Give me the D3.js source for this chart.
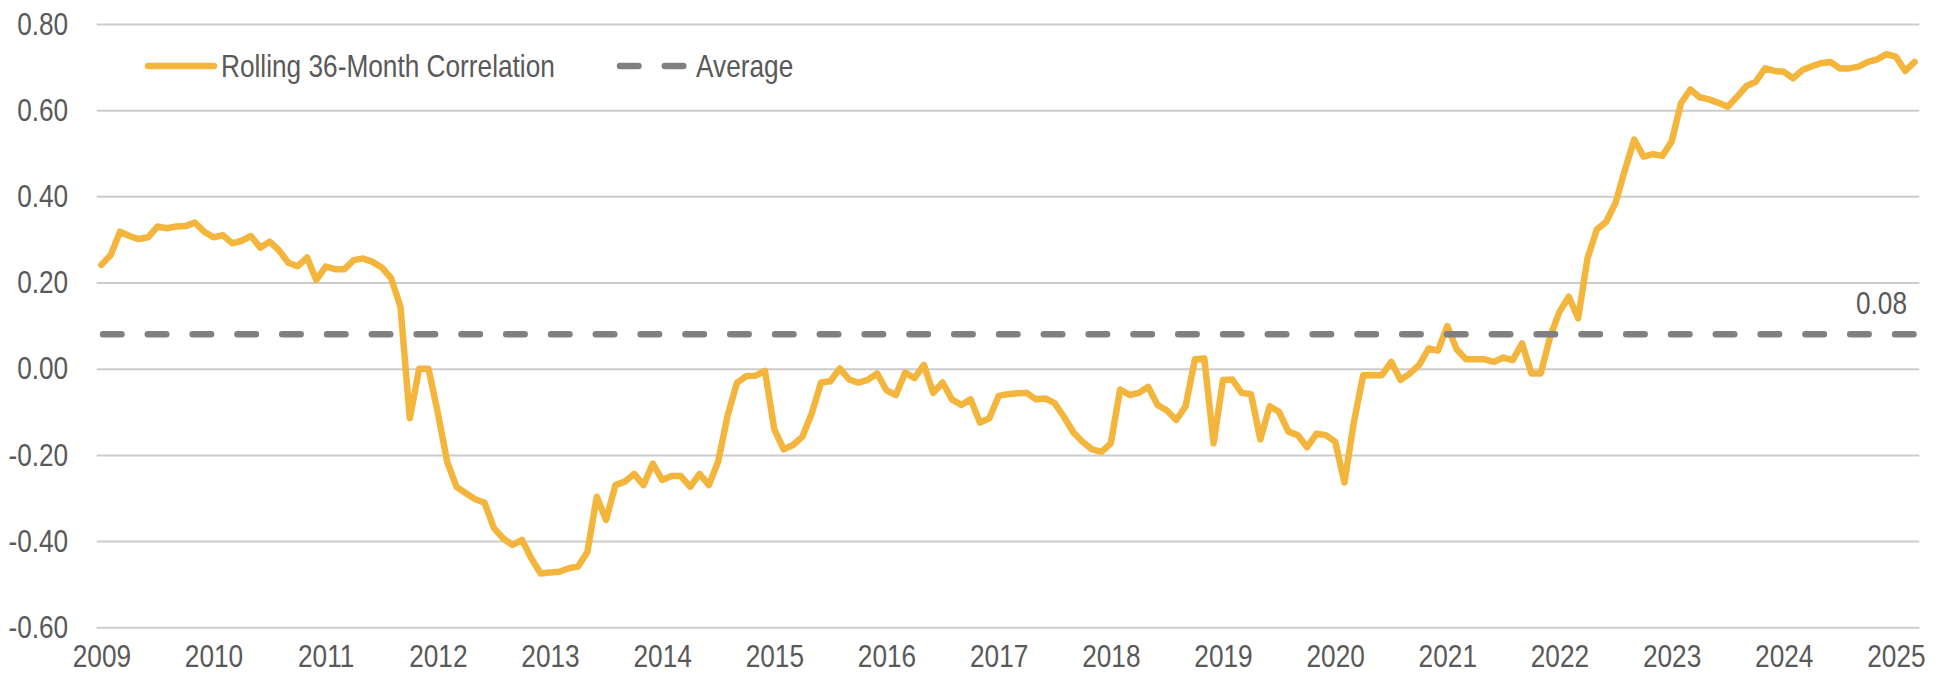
<!DOCTYPE html>
<html>
<head>
<meta charset="utf-8">
<script src="https://cdn.jsdelivr.net/npm/d3@7/dist/d3.min.js"></script>
<style>
  body { margin: 0; background: #fff; }
  .txt { font-family: 'Liberation Sans', Arial, sans-serif; font-size: 32px; fill: #595959; }
</style>
</head>
<body>
<div id="chart"></div>
<script>
// ---- data ----
const firstMonth = new Date(2009, 0, 1);   // Jan 2009
const lastMonth = new Date(2025, 2, 1);    // Mar 2025

// rolling 36-month correlation, one value per month
const correlation = [
  // 2009
  0.241, 0.264, 0.318, 0.308, 0.301, 0.305, 0.330, 0.326, 0.330, 0.331, 0.339, 0.318,
  // 2010
  0.305, 0.310, 0.291, 0.297, 0.308, 0.281, 0.295, 0.275, 0.246, 0.238, 0.258, 0.206,
  // 2011
  0.237, 0.231, 0.231, 0.252, 0.256, 0.248, 0.235, 0.210, 0.144, -0.115, 0.000, 0.000,
  // 2012
  -0.103, -0.216, -0.274, -0.289, -0.303, -0.311, -0.370, -0.394, -0.409, -0.397, -0.440, -0.475,
  // 2013
  -0.473, -0.471, -0.463, -0.459, -0.425, -0.297, -0.351, -0.270, -0.262, -0.244, -0.270, -0.220,
  // 2014
  -0.258, -0.249, -0.249, -0.274, -0.244, -0.270, -0.215, -0.109, -0.033, -0.017, -0.016, -0.005,
  // 2015
  -0.141, -0.187, -0.177, -0.158, -0.104, -0.032, -0.029, 0.001, -0.025, -0.032, -0.026, -0.011,
  // 2016
  -0.050, -0.061, -0.009, -0.022, 0.009, -0.056, -0.032, -0.071, -0.084, -0.071, -0.125, -0.115,
  // 2017
  -0.063, -0.059, -0.057, -0.056, -0.071, -0.069, -0.080, -0.112, -0.148, -0.170, -0.187, -0.193,
  // 2018
  -0.173, -0.048, -0.061, -0.056, -0.042, -0.084, -0.097, -0.119, -0.087, 0.022, 0.024, -0.173,
  // 2019
  -0.026, -0.025, -0.056, -0.059, -0.164, -0.087, -0.100, -0.146, -0.154, -0.182, -0.151, -0.154,
  // 2020
  -0.169, -0.264, -0.125, -0.015, -0.015, -0.015, 0.016, -0.026, -0.011, 0.009, 0.047, 0.042,
  // 2021
  0.099, 0.045, 0.022, 0.022, 0.022, 0.016, 0.026, 0.020, 0.059, -0.011, -0.011, 0.074,
  // 2022
  0.132, 0.167, 0.117, 0.256, 0.323, 0.341, 0.385, 0.461, 0.532, 0.492, 0.498, 0.494,
  // 2023
  0.527, 0.616, 0.648, 0.630, 0.625, 0.617, 0.608, 0.631, 0.656, 0.666, 0.697, 0.691,
  // 2024
  0.689, 0.674, 0.693, 0.702, 0.709, 0.712, 0.697, 0.697, 0.701, 0.712, 0.718, 0.730,
  // 2025
  0.724, 0.691, 0.712
];

const average = 0.08;
const averageLabel = "0.08";

const yearLabels = ["2009", "2010", "2011", "2012", "2013", "2014", "2015", "2016", "2017",
  "2018", "2019", "2020", "2021", "2022", "2023", "2024", "2025"];
const yTicks = [0.8, 0.6, 0.4, 0.2, 0.0, -0.2, -0.4, -0.6];
const seriesNames = ["Rolling 36-Month Correlation", "Average"];

// ---- layout ----
const width = 1944, height = 681;
const plot = { left: 96.7, right: 1919.3, top: 24, bottom: 627.3 };
const gold = "#F3B53B", dashGrey = "#808080";
const squeeze = 0.82;   // no narrow face installed, so condense the sans by hand

const months = d3.timeMonth.range(firstMonth, d3.timeMonth.offset(lastMonth, 1));
const series = months.map((m, i) => ({ month: m, value: correlation[i] }));

// put a text at (x,0) and squeeze it horizontally around that point
function narrow(sel, x) {
  sel.attr("x", 0)
    .attr("transform", `translate(${x},0) scale(${squeeze},1)`);
}

const svg = d3.select("#chart")
  .append("svg")
  .attr("width", width)
  .attr("height", height);

// monthly category axis, each point sits in the middle of its slot
const x = d3.scalePoint()
  .domain(months.map(d => +d))
  .range([plot.left, plot.right])
  .padding(0.5);

const y = d3.scaleLinear()
  .domain([-0.6, 0.8])
  .range([plot.bottom, plot.top]);

const fmt = v => (v < -1e-9 ? "-" : "") + d3.format(".2f")(Math.abs(v));

// gridlines + y labels
const yAxis = svg.append("g")
  .attr("transform", `translate(${plot.left},0)`)
  .call(d3.axisLeft(y)
    .tickValues(yTicks)
    .tickSize(-(plot.right - plot.left))
    .tickFormat(fmt));
yAxis.select(".domain").remove();
yAxis.selectAll(".tick line")
  .attr("stroke", "#cccccc")
  .attr("stroke-width", 2);
yAxis.selectAll(".tick text")
  .attr("class", "txt")
  .attr("font-family", null)
  .attr("font-size", null)
  .call(narrow, -28.5);

// year labels
const janTicks = yearLabels.map(lbl => +months.find(m => m.getFullYear() === +lbl && m.getMonth() === 0));
const xAxis = svg.append("g")
  .attr("transform", `translate(0,${plot.bottom})`)
  .call(d3.axisBottom(x)
    .tickValues(janTicks)
    .tickSize(0)
    .tickPadding(17)
    .tickFormat((d, i) => yearLabels[i]));
xAxis.select(".domain").remove();
xAxis.selectAll(".tick text")
  .attr("class", "txt")
  .attr("font-family", null)
  .attr("font-size", null)
  .call(narrow, 0);

// correlation line
const line = d3.line()
  .x(d => x(+d.month))
  .y(d => y(d.value));

svg.append("path")
  .datum(series)
  .attr("fill", "none")
  .attr("stroke", gold)
  .attr("stroke-width", 6.5)
  .attr("stroke-linejoin", "round")
  .attr("stroke-linecap", "round")
  .attr("d", line);

// average line drawn on top
svg.append("line")
  .attr("x1", plot.left + 6.3)
  .attr("x2", plot.right - 5)
  .attr("y1", y(average))
  .attr("y2", y(average))
  .attr("stroke", dashGrey)
  .attr("stroke-width", 6.5)
  .attr("stroke-linecap", "round")
  .attr("stroke-dasharray", "18.5,26.3");

svg.append("text")
  .attr("class", "txt")
  .attr("y", y(average) - 31)
  .attr("dy", "0.35em")
  .attr("text-anchor", "end")
  .text(averageLabel)
  .call(narrow, 1907);

// legend
const legend = svg.append("g").attr("transform", "translate(0,66)");
legend.append("line")
  .attr("x1", 148).attr("x2", 214)
  .attr("stroke", gold)
  .attr("stroke-width", 6.5)
  .attr("stroke-linecap", "round");
legend.append("text")
  .attr("class", "txt")
  .attr("dy", "0.35em")
  .text(seriesNames[0])
  .call(narrow, 221);
legend.append("line")
  .attr("x1", 620).attr("x2", 690)
  .attr("stroke", dashGrey)
  .attr("stroke-width", 6.5)
  .attr("stroke-linecap", "round")
  .attr("stroke-dasharray", "18.5,26.3");
legend.append("text")
  .attr("class", "txt")
  .attr("dy", "0.35em")
  .text(seriesNames[1])
  .call(narrow, 696);
</script>
</body>
</html>
